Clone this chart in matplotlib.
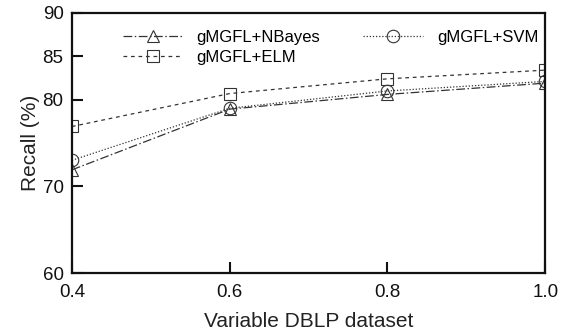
import matplotlib
matplotlib.use("Agg")
import matplotlib.pyplot as plt

plt.rcParams['font.family'] = ['Liberation Sans', 'DejaVu Sans']

x = [0.4, 0.6, 0.8, 1.0]
nbayes = [71.9, 78.9, 80.6, 81.9]
svm = [73.0, 79.0, 81.0, 82.1]
elm = [76.9, 80.7, 82.4, 83.4]
xticks = [0.4, 0.6, 0.8, 1.0]
xticklabels = ['0.4', '0.6', '0.8', '1.0']
yticks = [60, 70, 80, 85, 90]

fig = plt.figure(figsize=(5.8, 3.36), dpi=100)
ax = fig.add_axes([0.124, 0.1875, 0.816, 0.774])

c = '#333333'
ax.plot(x, nbayes, color=c, lw=0.9, dashes=[7, 2, 1.2, 2], marker='^', ms=9,
        mfc='none', mec=c, mew=0.8, label='gMGFL+NBayes')
ax.plot(x, elm, color=c, lw=0.9, dashes=[3, 3], marker='s', ms=9,
        mfc='none', mec=c, mew=0.8, label='gMGFL+ELM')
ax.plot(x, svm, color=c, lw=0.9, dashes=[1, 1.5], marker='o', ms=9,
        mfc='none', mec=c, mew=0.8, label='gMGFL+SVM')

ax.set_xlim(0.4, 1.0)
ax.set_ylim(60, 90)
ax.set_xticks(xticks)
ax.set_xticklabels(xticklabels)
ax.set_yticks(yticks)
ax.tick_params(direction='in', length=8, width=1.5, labelsize=13.5, colors='#111111')
ax.tick_params(axis='x', pad=8)
ax.tick_params(axis='y', pad=6)
for s in ax.spines.values():
    s.set_linewidth(1.6)
    s.set_color('#111111')

ax.set_xlabel('Variable DBLP dataset', fontsize=15, color='#222222', labelpad=8)
ax.set_ylabel('Recall (%)', fontsize=15, color='#222222', labelpad=2)

leg = ax.legend(ncol=2, loc='upper left', bbox_to_anchor=(0.108, 0.935), frameon=False,
                fontsize=12, handlelength=3.6, handletextpad=0.8, columnspacing=2.6,
                labelspacing=0.28, borderpad=0, borderaxespad=0)

fig.savefig('out.png', dpi=100)
